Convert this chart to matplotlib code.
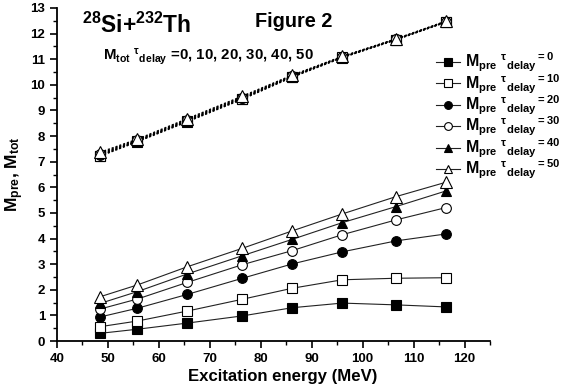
import matplotlib
matplotlib.use("Agg")
import matplotlib.pyplot as plt
from matplotlib.ticker import MultipleLocator

plt.rcParams['font.family'] = ['Liberation Sans', 'DejaVu Sans']
plt.rcParams['font.weight'] = 'bold'
plt.rcParams['mathtext.fontset'] = 'custom'
plt.rcParams['mathtext.rm'] = 'Liberation Sans:bold'
plt.rcParams['mathtext.it'] = 'Liberation Sans:bold'
plt.rcParams['mathtext.bf'] = 'Liberation Sans:bold'
plt.rcParams['mathtext.default'] = 'rm'

# excitation energy (MeV)
energy = [48.5, 55.8, 65.6, 76.4, 86.2, 96.0, 106.6, 116.4]
tau_delay = [0, 10, 20, 30, 40, 50]

# pre-scission multiplicity for each tau_delay
m_pre = [
    [0.30, 0.46, 0.70, 0.98, 1.30, 1.48, 1.41, 1.33],
    [0.56, 0.78, 1.17, 1.63, 2.06, 2.39, 2.45, 2.47],
    [0.94, 1.28, 1.82, 2.45, 3.01, 3.48, 3.91, 4.18],
    [1.25, 1.64, 2.29, 2.98, 3.53, 4.15, 4.73, 5.21],
    [1.47, 1.93, 2.62, 3.33, 3.97, 4.62, 5.25, 5.86],
    [1.73, 2.19, 2.90, 3.62, 4.30, 4.96, 5.64, 6.20],
]

# total multiplicity for each tau_delay
m_tot = [
    [7.22, 7.78, 8.56, 9.44, 10.30, 11.06, 11.76, 12.45],
    [7.24, 7.80, 8.58, 9.46, 10.32, 11.07, 11.77, 12.46],
    [7.27, 7.81, 8.60, 9.48, 10.33, 11.08, 11.78, 12.46],
    [7.30, 7.83, 8.62, 9.50, 10.34, 11.09, 11.78, 12.47],
    [7.33, 7.85, 8.65, 9.53, 10.36, 11.10, 11.79, 12.48],
    [7.37, 7.88, 8.68, 9.56, 10.38, 11.11, 11.80, 12.49],
]

markers = ['s', 's', 'o', 'o', '^', '^']
fills = ['black', 'white', 'black', 'white', 'black', 'white']
msizes = [6.5, 6.5, 7, 7, 7.5, 8]

W, H = 580, 391
fig = plt.figure(figsize=(5.8, 3.91), dpi=100)
ax = fig.add_axes([57/W, 1-341/H, 433/W, 333/H])

for i in range(len(tau_delay)):
    ax.plot(energy, m_tot[i], color='black', lw=1.0, ls=(0, (1.5, 1.4)),
            marker=markers[i], mfc=fills[i], mec='black', ms=msizes[i], mew=0.8,
            zorder=3 + i)

handles = []
for i in range(len(tau_delay)):
    h, = ax.plot(energy, m_pre[i], color='#222222', lw=0.8,
                 marker=markers[i], mfc=fills[i], mec='black', ms=msizes[i], mew=0.8,
                 zorder=10 + i)
    handles.append(h)

ax.set_xlim(40, 125)
ax.set_ylim(0, 13)
ax.xaxis.set_major_locator(MultipleLocator(10))
ax.xaxis.set_minor_locator(MultipleLocator(5))
ax.yaxis.set_major_locator(MultipleLocator(1))
ax.yaxis.set_minor_locator(MultipleLocator(0.5))
ax.set_xticks([40, 50, 60, 70, 80, 90, 100, 110, 120])
ax.spines['top'].set_visible(False)
ax.spines['right'].set_visible(False)
ax.spines['left'].set_linewidth(1.3)
ax.spines['bottom'].set_linewidth(1.3)
ax.tick_params(which='major', direction='out', length=5, width=1.2, labelsize=9.5)
ax.tick_params(which='minor', direction='out', length=3, width=1)
for lbl in ax.get_xticklabels() + ax.get_yticklabels():
    lbl.set_fontweight('bold')

ax.set_ylabel(r"M$_{\rm pre}$, M$_{\rm tot}$", fontsize=12.5, fontweight='bold')
ax.yaxis.set_label_coords(-31 / 433, 0.5)

# texts placed in pixel coordinates (from top-left), then sized to the reference width
xlab = fig.text(283/W, 1-369/H, "Excitation energy (MeV)", ha='center', va='top', fontsize=14)
title = fig.text(82/W, 1-33/H, r"$^{28}$Si+$^{232}$Th", fontsize=14, va='baseline')
fig2 = fig.text(255/W, 1-27/H, "Figure 2", fontsize=13, va='baseline')
mtot = fig.text(103/W, 1-60/H, r"M$_{\rm tot}$ $^{\tau}$$_{\rm delay}$ =0, 10, 20, 30, 40, 50",
                fontsize=11, va='baseline')

fig.canvas.draw()
renderer = fig.canvas.get_renderer()
for txt, width in [(xlab, 190), (title, 110), (fig2, 77), (mtot, 210)]:
    bb = txt.get_window_extent(renderer)
    txt.set_fontsize(txt.get_fontsize() * width / bb.width)

labels = [r"M$_{\rm pre}$ $^{\tau}$$_{\rm delay}$$^{=%d}$" % t for t in tau_delay]
fig.legend(handles, labels, loc='upper left', bbox_to_anchor=(436/W, 1-51/H),
           frameon=False, fontsize=11.5, handlelength=1.5, handletextpad=0.3,
           labelspacing=-0.12, borderaxespad=0, borderpad=0, markerscale=0.8)

fig.savefig("out.png", dpi=100)
